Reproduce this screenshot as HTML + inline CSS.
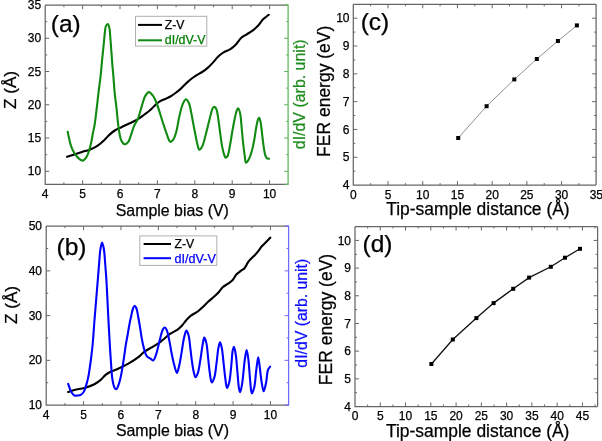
<!DOCTYPE html>
<html><head><meta charset="utf-8"><style>
html,body{margin:0;padding:0;background:#fff;}
svg{display:block;font-family:"Liberation Sans", sans-serif;will-change:transform;}
</style></head><body>
<svg width="602" height="441" viewBox="0 0 602 441">
<rect x="0" y="0" width="602" height="441" fill="#fff"/>
<path d="M45.2,5.2 L288.1,5.2 M45.2,5.2 L45.2,184.3 L288.1,184.3" stroke="#666666" stroke-width="1.25" fill="none" shape-rendering="auto"/>
<path d="M284.6,5.2 L288.1,5.2 L288.1,184.3 L284.6,184.3" stroke="#5cb85c" stroke-width="1.25" fill="none"/>
<path d="M63.90,184.3 L63.90,182.3 M63.90,5.2 L63.90,7.2 M82.60,184.3 L82.60,180.3 M82.60,5.2 L82.60,9.2 M101.30,184.3 L101.30,182.3 M101.30,5.2 L101.30,7.2 M120.00,184.3 L120.00,180.3 M120.00,5.2 L120.00,9.2 M138.70,184.3 L138.70,182.3 M138.70,5.2 L138.70,7.2 M157.40,184.3 L157.40,180.3 M157.40,5.2 L157.40,9.2 M176.10,184.3 L176.10,182.3 M176.10,5.2 L176.10,7.2 M194.80,184.3 L194.80,180.3 M194.80,5.2 L194.80,9.2 M213.50,184.3 L213.50,182.3 M213.50,5.2 L213.50,7.2 M232.20,184.3 L232.20,180.3 M232.20,5.2 L232.20,9.2 M250.90,184.3 L250.90,182.3 M250.90,5.2 L250.90,7.2 M269.60,184.3 L269.60,180.3 M269.60,5.2 L269.60,9.2 " stroke="#666666" stroke-width="1" fill="none"/>
<path d="M45.2,171.30 L49.2,171.30 M45.2,154.67 L47.2,154.67 M45.2,138.04 L49.2,138.04 M45.2,121.41 L47.2,121.41 M45.2,104.78 L49.2,104.78 M45.2,88.15 L47.2,88.15 M45.2,71.52 L49.2,71.52 M45.2,54.89 L47.2,54.89 M45.2,38.26 L49.2,38.26 M45.2,21.63 L47.2,21.63 " stroke="#666666" stroke-width="1" fill="none"/>
<path d="M288.1,171.30 L284.1,171.30 M288.1,154.67 L286.1,154.67 M288.1,138.04 L284.1,138.04 M288.1,121.41 L286.1,121.41 M288.1,104.78 L284.1,104.78 M288.1,88.15 L286.1,88.15 M288.1,71.52 L284.1,71.52 M288.1,54.89 L286.1,54.89 M288.1,38.26 L284.1,38.26 M288.1,21.63 L286.1,21.63 " stroke="#5cb85c" stroke-width="1" fill="none"/>
<text x="45.20" y="198.30" font-size="12" text-anchor="middle" fill="#000" stroke="#000" stroke-width="0.25" >4</text>
<text x="82.60" y="198.30" font-size="12" text-anchor="middle" fill="#000" stroke="#000" stroke-width="0.25" >5</text>
<text x="120.00" y="198.30" font-size="12" text-anchor="middle" fill="#000" stroke="#000" stroke-width="0.25" >6</text>
<text x="157.40" y="198.30" font-size="12" text-anchor="middle" fill="#000" stroke="#000" stroke-width="0.25" >7</text>
<text x="194.80" y="198.30" font-size="12" text-anchor="middle" fill="#000" stroke="#000" stroke-width="0.25" >8</text>
<text x="232.20" y="198.30" font-size="12" text-anchor="middle" fill="#000" stroke="#000" stroke-width="0.25" >9</text>
<text x="269.60" y="198.30" font-size="12" text-anchor="middle" fill="#000" stroke="#000" stroke-width="0.25" >10</text>
<text x="41.20" y="175.40" font-size="12" text-anchor="end" fill="#000" stroke="#000" stroke-width="0.25" >10</text>
<text x="41.20" y="142.14" font-size="12" text-anchor="end" fill="#000" stroke="#000" stroke-width="0.25" >15</text>
<text x="41.20" y="108.88" font-size="12" text-anchor="end" fill="#000" stroke="#000" stroke-width="0.25" >20</text>
<text x="41.20" y="75.62" font-size="12" text-anchor="end" fill="#000" stroke="#000" stroke-width="0.25" >25</text>
<text x="41.20" y="42.36" font-size="12" text-anchor="end" fill="#000" stroke="#000" stroke-width="0.25" >30</text>
<text x="41.20" y="9.10" font-size="12" text-anchor="end" fill="#000" stroke="#000" stroke-width="0.25" >35</text>
<text x="172.30" y="216.00" font-size="15.9" text-anchor="middle" fill="#000" stroke="#000" stroke-width="0.25" >Sample bias (V)</text>
<text x="0" y="0" font-size="17.2" text-anchor="middle" fill="#000" stroke="#000" stroke-width="0.25" transform="translate(15.80,90.00) rotate(-90)" >Z (&#197;)</text>
<text x="0" y="0" font-size="15.95" text-anchor="middle" fill="#1e8c1e" stroke="#1e8c1e" stroke-width="0.25" transform="translate(304.50,94.30) rotate(-90)" >dI/dV (arb. unit)</text>
<text x="50.80" y="31.50" font-size="24.5" text-anchor="start" fill="#000" stroke="#000" stroke-width="0.25" >(a)</text>
<rect x="135.5" y="16.3" width="71.3" height="29.8" fill="#fff" stroke="#b0b0b0" stroke-width="1"/>
<path d="M138,24.9 L162,24.9" stroke="#000" stroke-width="2"/>
<path d="M138,40.3 L162,40.3" stroke="#108a10" stroke-width="2"/>
<text x="164.80" y="28.80" font-size="12.2" text-anchor="start" fill="#000" stroke="#000" stroke-width="0.25" >Z-V</text>
<text x="164.80" y="43.60" font-size="12.4" text-anchor="start" fill="#008000" stroke="#008000" stroke-width="0.25" >dI/dV-V</text>
<path d="M67.10,156.80 C69.50,156.00 71.87,155.21 74.30,154.40 C76.80,153.57 79.35,152.68 81.90,151.90 C84.45,151.12 87.08,150.69 89.60,149.70 C92.22,148.67 94.91,147.36 97.30,145.80 C99.68,144.25 101.86,142.27 103.90,140.40 C105.84,138.63 107.44,136.58 109.30,134.90 C111.08,133.29 112.81,131.77 114.80,130.50 C116.84,129.20 119.07,128.33 121.40,127.20 C124.00,125.94 127.02,124.58 129.70,123.30 C132.24,122.08 134.69,121.12 137.10,119.70 C139.63,118.21 142.23,116.16 144.50,114.50 C146.48,113.05 148.25,111.83 150.00,110.30 C151.79,108.74 153.36,106.76 155.10,105.20 C156.76,103.71 158.42,102.15 160.20,101.10 C161.83,100.13 163.61,99.76 165.30,99.00 C167.01,98.23 168.73,97.47 170.40,96.50 C172.14,95.49 173.82,94.25 175.50,93.00 C177.22,91.72 178.94,90.39 180.60,88.90 C182.34,87.34 183.98,85.43 185.70,83.80 C187.38,82.20 189.06,80.59 190.80,79.20 C192.46,77.87 194.08,76.76 195.90,75.60 C197.86,74.35 200.21,73.30 202.20,72.00 C204.14,70.73 205.93,69.44 207.70,67.90 C209.57,66.26 211.32,64.30 213.10,62.40 C214.93,60.44 216.60,58.05 218.50,56.30 C220.25,54.69 222.03,53.38 224.00,52.20 C226.00,51.00 228.43,50.47 230.40,49.20 C232.40,47.91 234.16,46.31 235.90,44.50 C237.81,42.52 239.33,39.45 241.30,37.70 C243.00,36.19 244.98,35.44 246.80,34.30 C248.61,33.17 250.44,32.21 252.20,30.90 C254.08,29.50 255.95,27.93 257.70,26.10 C259.60,24.11 261.16,21.24 263.10,19.30 C264.88,17.53 266.90,16.30 268.80,14.80" stroke="#000" stroke-width="2.1" fill="none" stroke-linejoin="round" stroke-linecap="round"/>
<path d="M67.70,131.80 C68.23,134.30 68.73,136.90 69.30,139.30 C69.83,141.55 70.22,143.61 71.00,145.80 C71.85,148.18 73.02,150.89 74.30,153.00 C75.43,154.86 76.66,156.60 78.10,157.90 C79.42,159.08 81.13,160.71 82.50,160.60 C83.86,160.49 85.25,158.73 86.30,157.30 C87.54,155.60 88.28,153.25 89.10,150.80 C90.10,147.80 90.92,143.70 91.60,140.50 C92.18,137.73 92.51,135.24 93.00,132.70 C93.48,130.25 94.03,128.29 94.50,125.50 C95.15,121.69 95.69,116.83 96.30,111.90 C97.02,106.05 97.75,98.97 98.50,92.70 C99.22,86.68 100.07,80.74 100.70,75.00 C101.29,69.59 101.67,64.62 102.20,59.20 C102.76,53.47 103.51,46.49 104.00,41.50 C104.36,37.85 104.53,34.79 104.90,32.00 C105.19,29.79 105.23,27.48 105.90,26.10 C106.35,25.17 107.17,24.02 107.70,24.10 C108.33,24.19 108.89,26.03 109.30,27.50 C109.95,29.85 109.98,33.55 110.30,37.10 C110.69,41.50 111.03,46.98 111.40,51.90 C111.77,56.81 112.14,62.38 112.50,66.60 C112.77,69.79 113.01,71.63 113.30,75.00 C113.74,80.09 114.21,88.33 114.80,94.20 C115.30,99.18 115.98,103.30 116.50,108.00 C117.05,112.89 117.43,118.39 118.00,123.00 C118.49,126.96 118.96,130.83 119.60,134.00 C120.10,136.47 120.36,138.71 121.30,140.50 C122.12,142.05 123.39,144.14 124.60,144.30 C125.74,144.45 127.28,143.07 128.30,141.80 C129.65,140.11 130.25,136.98 131.20,134.40 C132.22,131.60 133.01,128.29 134.20,125.60 C135.28,123.16 136.79,121.51 137.90,118.90 C139.30,115.58 140.26,110.96 141.50,107.10 C142.70,103.36 143.63,98.75 145.20,96.10 C146.28,94.29 147.58,92.14 148.90,92.10 C150.33,92.06 152.20,94.66 153.50,96.50 C155.02,98.66 155.99,101.62 157.10,104.50 C158.35,107.73 159.38,111.51 160.50,115.00 C161.61,118.47 162.71,122.08 163.80,125.40 C164.81,128.46 165.86,131.56 166.80,134.20 C167.57,136.37 168.21,138.74 169.00,140.10 C169.48,140.93 169.89,141.85 170.50,141.90 C171.28,141.96 172.55,140.62 173.40,139.40 C174.67,137.57 175.55,134.32 176.40,131.30 C177.42,127.66 177.93,123.00 178.80,119.00 C179.64,115.14 180.52,110.83 181.50,107.70 C182.22,105.39 182.92,103.32 183.80,101.80 C184.44,100.70 185.14,99.20 185.90,99.20 C186.81,99.21 188.09,101.34 188.90,103.00 C190.05,105.36 190.49,109.18 191.20,112.50 C191.97,116.12 192.57,120.07 193.30,123.90 C194.04,127.80 194.87,132.09 195.60,135.70 C196.22,138.77 196.69,141.68 197.40,144.20 C197.99,146.28 198.51,149.64 199.40,149.80 C200.14,149.93 201.29,148.08 202.10,146.60 C203.40,144.23 204.28,139.93 205.30,136.30 C206.42,132.30 207.51,127.54 208.50,123.60 C209.36,120.18 210.10,116.81 210.90,114.00 C211.54,111.76 211.96,109.14 212.80,108.00 C213.27,107.37 213.87,106.83 214.40,106.90 C215.07,106.99 215.84,108.11 216.40,109.30 C217.47,111.57 217.87,116.46 218.50,120.40 C219.22,124.86 219.75,130.08 220.40,134.70 C221.02,139.06 221.53,143.69 222.30,147.40 C222.91,150.36 223.73,153.45 224.40,155.30 C224.78,156.35 224.98,157.58 225.50,157.70 C226.02,157.82 226.92,157.01 227.50,156.10 C228.67,154.24 229.15,149.53 229.90,145.80 C230.77,141.44 231.48,136.12 232.30,131.50 C233.08,127.14 233.90,122.52 234.70,118.80 C235.33,115.85 235.89,112.81 236.60,110.90 C237.04,109.73 237.51,108.19 238.00,108.20 C238.63,108.22 239.46,110.72 240.00,112.70 C240.92,116.08 241.10,122.10 241.60,127.00 C242.13,132.16 242.55,137.90 243.10,142.90 C243.59,147.37 244.14,151.98 244.70,155.60 C245.12,158.32 245.14,162.47 246.00,162.70 C246.65,162.87 247.87,160.92 248.70,159.50 C249.93,157.39 251.00,153.91 251.90,150.80 C252.90,147.36 253.58,143.54 254.30,139.70 C255.06,135.62 255.56,130.73 256.30,127.00 C256.89,124.01 257.48,120.45 258.20,119.00 C258.52,118.37 258.89,117.74 259.20,117.80 C259.73,117.90 260.19,120.33 260.60,122.20 C261.29,125.31 261.67,130.67 262.20,134.90 C262.73,139.13 263.19,143.86 263.80,147.60 C264.29,150.58 264.67,153.66 265.40,155.60 C265.86,156.82 266.29,157.92 267.00,158.40 C267.56,158.78 268.33,158.60 269.00,158.70" stroke="#108a10" stroke-width="2.1" fill="none" stroke-linejoin="round" stroke-linecap="round"/>
<path d="M46.2,226.1 L288.6,226.1 M46.2,226.1 L46.2,405.1 L288.6,405.1" stroke="#666666" stroke-width="1.25" fill="none" shape-rendering="auto"/>
<path d="M285.1,226.1 L288.6,226.1 L288.6,405.1 L285.1,405.1" stroke="#6b6bff" stroke-width="1.25" fill="none"/>
<path d="M64.89,405.1 L64.89,403.1 M64.89,226.1 L64.89,228.1 M83.58,405.1 L83.58,401.1 M83.58,226.1 L83.58,230.1 M102.27,405.1 L102.27,403.1 M102.27,226.1 L102.27,228.1 M120.96,405.1 L120.96,401.1 M120.96,226.1 L120.96,230.1 M139.65,405.1 L139.65,403.1 M139.65,226.1 L139.65,228.1 M158.34,405.1 L158.34,401.1 M158.34,226.1 L158.34,230.1 M177.03,405.1 L177.03,403.1 M177.03,226.1 L177.03,228.1 M195.72,405.1 L195.72,401.1 M195.72,226.1 L195.72,230.1 M214.41,405.1 L214.41,403.1 M214.41,226.1 L214.41,228.1 M233.10,405.1 L233.10,401.1 M233.10,226.1 L233.10,230.1 M251.79,405.1 L251.79,403.1 M251.79,226.1 L251.79,228.1 M270.48,405.1 L270.48,401.1 M270.48,226.1 L270.48,230.1 " stroke="#666666" stroke-width="1" fill="none"/>
<path d="M46.2,382.73 L48.2,382.73 M46.2,360.35 L50.2,360.35 M46.2,337.98 L48.2,337.98 M46.2,315.60 L50.2,315.60 M46.2,293.23 L48.2,293.23 M46.2,270.85 L50.2,270.85 M46.2,248.48 L48.2,248.48 " stroke="#666666" stroke-width="1" fill="none"/>
<path d="M288.6,382.73 L286.6,382.73 M288.6,360.35 L284.6,360.35 M288.6,337.98 L286.6,337.98 M288.6,315.60 L284.6,315.60 M288.6,293.23 L286.6,293.23 M288.6,270.85 L284.6,270.85 M288.6,248.48 L286.6,248.48 " stroke="#6b6bff" stroke-width="1" fill="none"/>
<text x="46.20" y="419.30" font-size="12" text-anchor="middle" fill="#000" stroke="#000" stroke-width="0.25" >4</text>
<text x="83.58" y="419.30" font-size="12" text-anchor="middle" fill="#000" stroke="#000" stroke-width="0.25" >5</text>
<text x="120.96" y="419.30" font-size="12" text-anchor="middle" fill="#000" stroke="#000" stroke-width="0.25" >6</text>
<text x="158.34" y="419.30" font-size="12" text-anchor="middle" fill="#000" stroke="#000" stroke-width="0.25" >7</text>
<text x="195.72" y="419.30" font-size="12" text-anchor="middle" fill="#000" stroke="#000" stroke-width="0.25" >8</text>
<text x="233.10" y="419.30" font-size="12" text-anchor="middle" fill="#000" stroke="#000" stroke-width="0.25" >9</text>
<text x="270.48" y="419.30" font-size="12" text-anchor="middle" fill="#000" stroke="#000" stroke-width="0.25" >10</text>
<text x="42.00" y="409.20" font-size="12" text-anchor="end" fill="#000" stroke="#000" stroke-width="0.25" >10</text>
<text x="42.00" y="364.45" font-size="12" text-anchor="end" fill="#000" stroke="#000" stroke-width="0.25" >20</text>
<text x="42.00" y="319.70" font-size="12" text-anchor="end" fill="#000" stroke="#000" stroke-width="0.25" >30</text>
<text x="42.00" y="274.95" font-size="12" text-anchor="end" fill="#000" stroke="#000" stroke-width="0.25" >40</text>
<text x="42.00" y="230.20" font-size="12" text-anchor="end" fill="#000" stroke="#000" stroke-width="0.25" >50</text>
<text x="172.40" y="435.70" font-size="15.9" text-anchor="middle" fill="#000" stroke="#000" stroke-width="0.25" >Sample bias (V)</text>
<text x="0" y="0" font-size="17.2" text-anchor="middle" fill="#000" stroke="#000" stroke-width="0.25" transform="translate(17.20,305.00) rotate(-90)" >Z (&#197;)</text>
<text x="0" y="0" font-size="15.8" text-anchor="middle" fill="#0a0aff" stroke="#0a0aff" stroke-width="0.25" transform="translate(306.80,313.20) rotate(-90)" >dI/dV (arb. unit)</text>
<text x="56.50" y="255.00" font-size="24.5" text-anchor="start" fill="#000" stroke="#000" stroke-width="0.25" >(b)</text>
<rect x="139.8" y="235.9" width="77" height="29.5" fill="#fff" stroke="#b0b0b0" stroke-width="1"/>
<path d="M143.6,244 L171,244" stroke="#000" stroke-width="2"/>
<path d="M143.6,258.2 L171,258.2" stroke="#0000ff" stroke-width="2"/>
<text x="174.50" y="247.80" font-size="12.2" text-anchor="start" fill="#000" stroke="#000" stroke-width="0.25" >Z-V</text>
<text x="174.50" y="262.80" font-size="12.6" text-anchor="start" fill="#0000ff" stroke="#0000ff" stroke-width="0.25" >dI/dV-V</text>
<path d="M68.20,392.10 C70.30,391.37 72.14,390.54 74.50,389.90 C77.40,389.12 81.13,388.91 84.40,388.00 C87.76,387.06 91.53,385.80 94.40,384.30 C96.84,383.03 98.80,381.51 100.70,379.90 C102.51,378.36 103.87,376.29 105.60,374.90 C107.19,373.63 108.79,372.71 110.60,371.80 C112.56,370.82 114.57,370.38 117.00,369.30 C120.37,367.80 125.17,365.48 128.80,363.40 C132.12,361.50 135.31,359.47 138.00,357.40 C140.35,355.59 141.94,353.45 144.20,351.80 C146.50,350.11 149.31,348.80 151.70,347.40 C153.89,346.11 155.96,345.11 158.00,343.70 C160.13,342.23 162.13,340.37 164.20,338.70 C166.27,337.03 168.17,335.22 170.40,333.70 C172.72,332.11 175.78,330.98 177.90,329.40 C179.72,328.04 181.12,326.53 182.50,325.00 C183.80,323.55 184.68,321.99 186.00,320.50 C187.45,318.86 189.03,317.06 190.90,315.60 C192.90,314.04 195.63,313.03 197.70,311.50 C199.68,310.04 201.31,308.37 203.10,306.70 C204.95,304.97 206.70,303.03 208.60,301.30 C210.50,299.57 212.69,297.97 214.50,296.30 C216.16,294.77 217.70,293.26 219.10,291.70 C220.42,290.23 221.26,288.52 222.70,287.20 C224.23,285.80 226.39,284.83 228.10,283.60 C229.72,282.43 231.36,281.46 232.70,280.00 C234.12,278.46 234.89,276.05 236.30,274.50 C237.62,273.05 239.36,272.00 240.80,270.90 C242.08,269.92 243.38,269.42 244.50,268.20 C245.88,266.69 246.89,263.88 248.10,262.20 C249.06,260.86 249.90,259.97 251.00,258.80 C252.29,257.42 254.03,255.99 255.40,254.50 C256.73,253.05 257.98,251.44 259.10,250.00 C260.09,248.72 260.73,247.55 261.80,246.30 C263.06,244.83 264.85,243.27 266.30,241.80 C267.68,240.41 268.97,239.07 270.30,237.70" stroke="#000" stroke-width="2.1" fill="none" stroke-linejoin="round" stroke-linecap="round"/>
<path d="M68.20,383.90 C68.83,385.70 69.41,387.69 70.10,389.30 C70.69,390.67 71.23,391.94 72.00,393.00 C72.71,393.98 73.53,395.10 74.50,395.50 C75.41,395.88 76.57,395.60 77.60,395.50 C78.64,395.40 79.74,395.41 80.70,394.90 C81.83,394.30 82.94,393.16 83.80,391.80 C84.92,390.04 85.57,387.27 86.30,384.90 C87.05,382.47 87.66,379.98 88.20,377.40 C88.77,374.69 89.15,371.99 89.60,369.00 C90.12,365.58 90.62,361.82 91.10,358.00 C91.62,353.85 92.12,350.04 92.60,345.00 C93.27,338.02 93.85,328.16 94.50,320.00 C95.12,312.17 95.80,304.37 96.40,297.00 C96.96,290.18 97.51,283.40 98.00,277.30 C98.43,272.01 98.79,267.29 99.20,262.50 C99.59,257.97 99.78,252.94 100.40,249.30 C100.85,246.67 101.52,242.60 102.10,242.60 C102.68,242.60 103.43,246.67 103.90,249.30 C104.55,252.94 104.71,257.79 105.10,262.50 C105.55,267.92 106.04,274.39 106.40,280.00 C106.73,285.19 106.92,289.52 107.20,295.00 C107.54,301.63 107.92,309.65 108.30,317.00 C108.68,324.38 109.08,331.92 109.50,339.20 C109.91,346.25 110.29,353.15 110.80,360.00 C111.30,366.71 111.66,374.88 112.50,379.90 C113.03,383.02 113.51,385.79 114.40,387.40 C114.91,388.34 115.62,389.38 116.20,389.30 C117.00,389.19 117.83,386.65 118.50,385.00 C119.32,382.99 119.88,380.66 120.50,378.00 C121.31,374.55 122.01,370.16 122.70,366.00 C123.45,361.52 124.25,355.78 124.80,352.00 C125.17,349.42 125.31,347.92 125.70,345.50 C126.19,342.41 126.97,338.54 127.60,335.00 C128.24,331.38 128.84,327.42 129.50,324.00 C130.08,320.98 130.66,318.24 131.30,315.50 C131.90,312.92 132.44,309.74 133.20,308.00 C133.65,306.96 134.19,305.71 134.70,305.70 C135.22,305.69 135.83,306.92 136.30,308.00 C137.14,309.92 137.60,313.61 138.20,316.70 C138.88,320.19 139.48,324.17 140.10,327.90 C140.72,331.63 141.24,335.60 141.90,339.10 C142.49,342.22 142.99,345.03 143.80,347.90 C144.60,350.73 145.27,354.37 146.70,356.20 C147.73,357.52 149.34,357.93 150.50,358.70 C151.48,359.35 152.42,360.69 153.20,360.50 C154.15,360.26 154.80,357.93 155.50,356.20 C156.46,353.83 157.20,350.43 158.00,347.40 C158.84,344.21 159.54,340.62 160.40,337.50 C161.18,334.65 161.88,331.09 162.90,329.40 C163.47,328.45 164.19,327.46 164.80,327.50 C165.46,327.54 166.13,328.81 166.70,330.00 C167.74,332.16 168.42,336.39 169.20,340.00 C170.11,344.19 170.82,349.37 171.70,353.70 C172.50,357.63 173.25,361.49 174.20,364.90 C175.02,367.84 176.05,373.01 176.90,373.00 C177.68,372.99 178.42,368.82 179.10,366.10 C180.04,362.33 180.78,357.07 181.60,352.40 C182.45,347.54 183.11,341.49 184.10,337.50 C184.79,334.73 185.58,330.65 186.40,330.60 C187.07,330.56 187.92,333.07 188.50,335.00 C189.48,338.25 189.85,344.50 190.40,348.70 C190.86,352.27 191.11,355.10 191.60,358.60 C192.15,362.57 192.79,367.88 193.60,371.30 C194.16,373.70 194.73,377.23 195.50,377.30 C196.19,377.37 197.22,374.82 197.90,372.90 C199.00,369.82 199.54,364.68 200.30,360.20 C201.15,355.20 201.89,348.46 202.70,344.30 C203.23,341.58 203.65,337.65 204.30,337.60 C204.88,337.56 205.74,340.48 206.30,342.70 C207.25,346.49 207.60,353.44 208.20,358.60 C208.77,363.49 209.14,368.63 209.80,372.90 C210.35,376.40 210.77,382.26 211.70,382.40 C212.40,382.51 213.59,379.71 214.30,377.60 C215.45,374.17 215.81,368.19 216.50,363.30 C217.22,358.17 217.67,351.29 218.50,347.50 C218.98,345.30 219.57,342.40 220.10,342.40 C220.63,342.40 221.22,345.27 221.70,347.50 C222.57,351.55 223.16,359.38 223.80,364.90 C224.38,369.90 224.78,375.03 225.40,379.20 C225.88,382.47 226.27,387.83 227.00,387.90 C227.60,387.96 228.59,384.76 229.20,382.40 C230.20,378.52 230.60,371.85 231.20,366.50 C231.81,361.06 232.02,353.29 232.80,350.00 C233.15,348.52 233.60,346.87 234.00,346.90 C234.65,346.95 235.37,352.18 235.90,355.60 C236.64,360.41 236.95,367.41 237.50,373.10 C238.02,378.53 238.38,385.78 239.10,389.00 C239.43,390.46 239.82,392.12 240.20,392.10 C240.86,392.06 241.67,386.45 242.30,382.60 C243.26,376.77 243.83,366.38 244.70,360.40 C245.30,356.30 245.98,350.10 246.60,350.10 C247.17,350.10 247.80,355.22 248.30,358.80 C249.10,364.48 249.52,374.68 250.20,381.00 C250.71,385.74 250.93,393.29 251.80,393.40 C252.43,393.48 253.54,389.98 254.20,387.40 C255.29,383.14 255.58,375.26 256.30,369.90 C256.92,365.32 257.60,357.20 258.20,357.20 C258.72,357.20 259.19,363.12 259.70,366.70 C260.35,371.32 260.90,378.11 261.70,382.60 C262.29,385.95 262.97,391.28 263.70,391.30 C264.43,391.32 265.42,385.80 266.10,382.60 C266.91,378.79 266.95,372.66 268.00,369.90 C268.57,368.39 269.40,367.77 270.10,366.70" stroke="#0000ff" stroke-width="2.1" fill="none" stroke-linejoin="round" stroke-linecap="round"/>
<path d="M353.3,4.3 L596.1,4.3 M353.3,4.3 L353.3,185.1 L596.1,185.1" stroke="#666666" stroke-width="1.25" fill="none" shape-rendering="auto"/>
<path d="M596.1,4.3 L596.1,185.1" stroke="#666666" stroke-width="1.25" fill="none"/>
<path d="M370.66,185.1 L370.66,183.1 M370.66,4.3 L370.66,6.3 M388.01,185.1 L388.01,181.1 M388.01,4.3 L388.01,8.3 M405.37,185.1 L405.37,183.1 M405.37,4.3 L405.37,6.3 M422.73,185.1 L422.73,181.1 M422.73,4.3 L422.73,8.3 M440.09,185.1 L440.09,183.1 M440.09,4.3 L440.09,6.3 M457.44,185.1 L457.44,181.1 M457.44,4.3 L457.44,8.3 M474.80,185.1 L474.80,183.1 M474.80,4.3 L474.80,6.3 M492.16,185.1 L492.16,181.1 M492.16,4.3 L492.16,8.3 M509.52,185.1 L509.52,183.1 M509.52,4.3 L509.52,6.3 M526.88,185.1 L526.88,181.1 M526.88,4.3 L526.88,8.3 M544.23,185.1 L544.23,183.1 M544.23,4.3 L544.23,6.3 M561.59,185.1 L561.59,181.1 M561.59,4.3 L561.59,8.3 M578.95,185.1 L578.95,183.1 M578.95,4.3 L578.95,6.3 " stroke="#666666" stroke-width="1" fill="none"/>
<path d="M353.3,171.19 L355.3,171.19 M353.3,157.28 L357.3,157.28 M353.3,143.37 L355.3,143.37 M353.3,129.46 L357.3,129.46 M353.3,115.55 L355.3,115.55 M353.3,101.64 L357.3,101.64 M353.3,87.73 L355.3,87.73 M353.3,73.82 L357.3,73.82 M353.3,59.91 L355.3,59.91 M353.3,46.00 L357.3,46.00 M353.3,32.09 L355.3,32.09 M353.3,18.18 L357.3,18.18 " stroke="#666666" stroke-width="1" fill="none"/>
<path d="M596.1,171.19 L594.1,171.19 M596.1,157.28 L592.1,157.28 M596.1,143.37 L594.1,143.37 M596.1,129.46 L592.1,129.46 M596.1,115.55 L594.1,115.55 M596.1,101.64 L592.1,101.64 M596.1,87.73 L594.1,87.73 M596.1,73.82 L592.1,73.82 M596.1,59.91 L594.1,59.91 M596.1,46.00 L592.1,46.00 M596.1,32.09 L594.1,32.09 M596.1,18.18 L592.1,18.18 " stroke="#666666" stroke-width="1" fill="none"/>
<text x="353.30" y="198.50" font-size="12" text-anchor="middle" fill="#000" stroke="#000" stroke-width="0.25" >0</text>
<text x="388.01" y="198.50" font-size="12" text-anchor="middle" fill="#000" stroke="#000" stroke-width="0.25" >5</text>
<text x="422.73" y="198.50" font-size="12" text-anchor="middle" fill="#000" stroke="#000" stroke-width="0.25" >10</text>
<text x="457.44" y="198.50" font-size="12" text-anchor="middle" fill="#000" stroke="#000" stroke-width="0.25" >15</text>
<text x="492.16" y="198.50" font-size="12" text-anchor="middle" fill="#000" stroke="#000" stroke-width="0.25" >20</text>
<text x="526.88" y="198.50" font-size="12" text-anchor="middle" fill="#000" stroke="#000" stroke-width="0.25" >25</text>
<text x="561.59" y="198.50" font-size="12" text-anchor="middle" fill="#000" stroke="#000" stroke-width="0.25" >30</text>
<text x="596.31" y="198.50" font-size="12" text-anchor="middle" fill="#000" stroke="#000" stroke-width="0.25" >35</text>
<text x="349.50" y="189.20" font-size="12" text-anchor="end" fill="#000" stroke="#000" stroke-width="0.25" >4</text>
<text x="349.50" y="161.38" font-size="12" text-anchor="end" fill="#000" stroke="#000" stroke-width="0.25" >5</text>
<text x="349.50" y="133.56" font-size="12" text-anchor="end" fill="#000" stroke="#000" stroke-width="0.25" >6</text>
<text x="349.50" y="105.74" font-size="12" text-anchor="end" fill="#000" stroke="#000" stroke-width="0.25" >7</text>
<text x="349.50" y="77.92" font-size="12" text-anchor="end" fill="#000" stroke="#000" stroke-width="0.25" >8</text>
<text x="349.50" y="50.10" font-size="12" text-anchor="end" fill="#000" stroke="#000" stroke-width="0.25" >9</text>
<text x="349.50" y="22.28" font-size="12" text-anchor="end" fill="#000" stroke="#000" stroke-width="0.25" >10</text>
<text x="477.90" y="215.40" font-size="17.45" text-anchor="middle" fill="#000" stroke="#000" stroke-width="0.25" >Tip-sample distance (&#197;)</text>
<text x="0" y="0" font-size="17.5" text-anchor="middle" fill="#000" stroke="#000" stroke-width="0.25" transform="translate(329.50,91.30) rotate(-90)" >FER energy (eV)</text>
<text x="360.70" y="30.00" font-size="24.5" text-anchor="start" fill="#000" stroke="#000" stroke-width="0.25" >(c)</text>
<path d="M458.2,138 L486.6,106.2 L514.3,79.4 L536.8,59 L557.9,41 L576.9,25.4" stroke="#909090" stroke-width="1" fill="none"/>
<rect x="456.2" y="136" width="4" height="4" fill="#000"/>
<rect x="484.6" y="104.2" width="4" height="4" fill="#000"/>
<rect x="512.3" y="77.4" width="4" height="4" fill="#000"/>
<rect x="534.8" y="57" width="4" height="4" fill="#000"/>
<rect x="555.9" y="39" width="4" height="4" fill="#000"/>
<rect x="574.9" y="23.4" width="4" height="4" fill="#000"/>
<path d="M355,226.5 L597.6,226.5 M355,226.5 L355,406.5 L597.6,406.5" stroke="#666666" stroke-width="1.25" fill="none" shape-rendering="auto"/>
<path d="M597.6,226.5 L597.6,406.5" stroke="#666666" stroke-width="1.25" fill="none"/>
<path d="M367.63,406.5 L367.63,404.5 M367.63,226.5 L367.63,228.5 M380.27,406.5 L380.27,402.5 M380.27,226.5 L380.27,230.5 M392.90,406.5 L392.90,404.5 M392.90,226.5 L392.90,228.5 M405.54,406.5 L405.54,402.5 M405.54,226.5 L405.54,230.5 M418.18,406.5 L418.18,404.5 M418.18,226.5 L418.18,228.5 M430.81,406.5 L430.81,402.5 M430.81,226.5 L430.81,230.5 M443.44,406.5 L443.44,404.5 M443.44,226.5 L443.44,228.5 M456.08,406.5 L456.08,402.5 M456.08,226.5 L456.08,230.5 M468.72,406.5 L468.72,404.5 M468.72,226.5 L468.72,228.5 M481.35,406.5 L481.35,402.5 M481.35,226.5 L481.35,230.5 M493.99,406.5 L493.99,404.5 M493.99,226.5 L493.99,228.5 M506.62,406.5 L506.62,402.5 M506.62,226.5 L506.62,230.5 M519.25,406.5 L519.25,404.5 M519.25,226.5 L519.25,228.5 M531.89,406.5 L531.89,402.5 M531.89,226.5 L531.89,230.5 M544.52,406.5 L544.52,404.5 M544.52,226.5 L544.52,228.5 M557.16,406.5 L557.16,402.5 M557.16,226.5 L557.16,230.5 M569.80,406.5 L569.80,404.5 M569.80,226.5 L569.80,228.5 M582.43,406.5 L582.43,402.5 M582.43,226.5 L582.43,230.5 M595.07,406.5 L595.07,404.5 M595.07,226.5 L595.07,228.5 " stroke="#666666" stroke-width="1" fill="none"/>
<path d="M355,392.66 L357.0,392.66 M355,378.82 L359,378.82 M355,364.98 L357.0,364.98 M355,351.14 L359,351.14 M355,337.30 L357.0,337.30 M355,323.46 L359,323.46 M355,309.62 L357.0,309.62 M355,295.78 L359,295.78 M355,281.94 L357.0,281.94 M355,268.10 L359,268.10 M355,254.26 L357.0,254.26 M355,240.42 L359,240.42 " stroke="#666666" stroke-width="1" fill="none"/>
<path d="M597.6,392.66 L595.6,392.66 M597.6,378.82 L593.6,378.82 M597.6,364.98 L595.6,364.98 M597.6,351.14 L593.6,351.14 M597.6,337.30 L595.6,337.30 M597.6,323.46 L593.6,323.46 M597.6,309.62 L595.6,309.62 M597.6,295.78 L593.6,295.78 M597.6,281.94 L595.6,281.94 M597.6,268.10 L593.6,268.10 M597.6,254.26 L595.6,254.26 M597.6,240.42 L593.6,240.42 " stroke="#666666" stroke-width="1" fill="none"/>
<text x="355.00" y="419.50" font-size="12" text-anchor="middle" fill="#000" stroke="#000" stroke-width="0.25" >0</text>
<text x="380.27" y="419.50" font-size="12" text-anchor="middle" fill="#000" stroke="#000" stroke-width="0.25" >5</text>
<text x="405.54" y="419.50" font-size="12" text-anchor="middle" fill="#000" stroke="#000" stroke-width="0.25" >10</text>
<text x="430.81" y="419.50" font-size="12" text-anchor="middle" fill="#000" stroke="#000" stroke-width="0.25" >15</text>
<text x="456.08" y="419.50" font-size="12" text-anchor="middle" fill="#000" stroke="#000" stroke-width="0.25" >20</text>
<text x="481.35" y="419.50" font-size="12" text-anchor="middle" fill="#000" stroke="#000" stroke-width="0.25" >25</text>
<text x="506.62" y="419.50" font-size="12" text-anchor="middle" fill="#000" stroke="#000" stroke-width="0.25" >30</text>
<text x="531.89" y="419.50" font-size="12" text-anchor="middle" fill="#000" stroke="#000" stroke-width="0.25" >35</text>
<text x="557.16" y="419.50" font-size="12" text-anchor="middle" fill="#000" stroke="#000" stroke-width="0.25" >40</text>
<text x="582.43" y="419.50" font-size="12" text-anchor="middle" fill="#000" stroke="#000" stroke-width="0.25" >45</text>
<text x="351.00" y="410.60" font-size="12" text-anchor="end" fill="#000" stroke="#000" stroke-width="0.25" >4</text>
<text x="351.00" y="382.92" font-size="12" text-anchor="end" fill="#000" stroke="#000" stroke-width="0.25" >5</text>
<text x="351.00" y="355.24" font-size="12" text-anchor="end" fill="#000" stroke="#000" stroke-width="0.25" >6</text>
<text x="351.00" y="327.56" font-size="12" text-anchor="end" fill="#000" stroke="#000" stroke-width="0.25" >7</text>
<text x="351.00" y="299.88" font-size="12" text-anchor="end" fill="#000" stroke="#000" stroke-width="0.25" >8</text>
<text x="351.00" y="272.20" font-size="12" text-anchor="end" fill="#000" stroke="#000" stroke-width="0.25" >9</text>
<text x="351.00" y="244.52" font-size="12" text-anchor="end" fill="#000" stroke="#000" stroke-width="0.25" >10</text>
<text x="477.70" y="437.00" font-size="17.45" text-anchor="middle" fill="#000" stroke="#000" stroke-width="0.25" >Tip-sample distance (&#197;)</text>
<text x="0" y="0" font-size="17.5" text-anchor="middle" fill="#000" stroke="#000" stroke-width="0.25" transform="translate(331.50,319.50) rotate(-90)" >FER energy (eV)</text>
<text x="362.50" y="252.00" font-size="24.5" text-anchor="start" fill="#000" stroke="#000" stroke-width="0.25" >(d)</text>
<path d="M431.4,364 L452.8,339.5 L476.4,318.1 L493.6,303.1 L513.2,288.8 L529.1,277.6 L550.8,266.8 L565,257.7 L580,248.8" stroke="#111" stroke-width="1.3" fill="none"/>
<rect x="429.4" y="362" width="4" height="4" fill="#000"/>
<rect x="450.8" y="337.5" width="4" height="4" fill="#000"/>
<rect x="474.4" y="316.1" width="4" height="4" fill="#000"/>
<rect x="491.6" y="301.1" width="4" height="4" fill="#000"/>
<rect x="511.20000000000005" y="286.8" width="4" height="4" fill="#000"/>
<rect x="527.1" y="275.6" width="4" height="4" fill="#000"/>
<rect x="548.8" y="264.8" width="4" height="4" fill="#000"/>
<rect x="563" y="255.7" width="4" height="4" fill="#000"/>
<rect x="578" y="246.8" width="4" height="4" fill="#000"/>
</svg>
</body></html>
